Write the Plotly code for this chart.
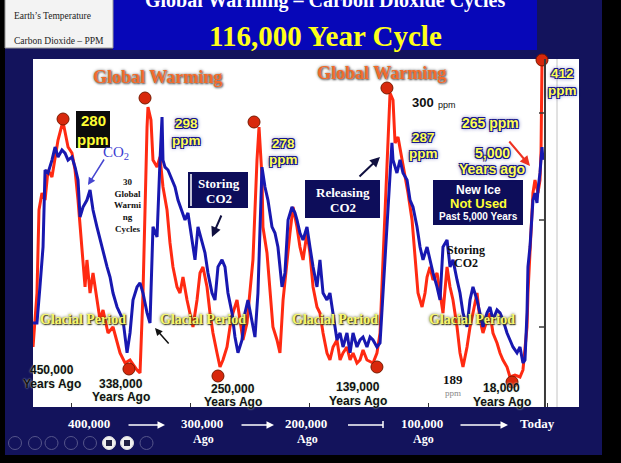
import plotly.graph_objects as go

# ---------------- data ----------------
# x: thousands of years ago ; red = temperature anomaly (deg C) ; blue = CO2 (ppm)
temp_kyr = [431.9, 428.6, 426.9, 424.4, 421.8, 419.3, 416.0, 413.4, 410.9, 407.6, 406.7, 405.0, 402.5, 399.2,
            396.6, 394.1, 392.4, 390.8, 389.9, 388.2, 386.6, 384.0, 381.5, 378.2, 375.6, 373.1, 368.9, 364.7,
            358.8, 354.6, 350.4, 344.5, 342.0, 339.5, 337.8, 336.1, 335.3, 332.8, 331.1, 327.7, 325.2, 322.7,
            319.3, 316.8, 314.3, 310.9, 308.4, 305.9, 302.5, 300.0, 297.5, 294.1, 291.6, 289.1, 285.7, 283.2,
            280.7, 277.3, 274.8, 272.3, 268.9, 266.4, 263.9, 260.5, 258.0, 255.5, 252.1, 249.6, 247.1, 243.7,
            242.0, 239.5, 238.7, 235.3, 232.8, 230.3, 226.9, 224.4, 221.8, 218.5, 216.0, 213.4, 210.1, 207.6,
            205.0, 201.7, 199.2, 196.6, 193.3, 190.8, 188.2, 184.9, 182.4, 179.8, 176.5, 173.9, 171.4, 168.1,
            165.5, 163.0, 159.7, 157.1, 154.6, 151.3, 146.2, 142.9, 140.3, 137.8, 134.5, 131.9, 129.4, 127.7,
            125.2, 121.8, 119.3, 116.8, 113.4, 110.9, 108.4, 105.0, 102.5, 100.8, 98.3, 95.8, 92.4, 89.9,
            87.4, 84.0, 81.5, 79.0, 75.6, 73.1, 70.6, 67.2, 64.7, 62.2, 58.8, 56.3, 53.8, 50.4, 47.9, 45.4,
            42.0, 39.5, 37.0, 33.6, 31.1, 26.9, 22.7, 20.2, 16.8, 16.0, 14.3, 11.8, 10.1, 8.4, 7.6, 5.9,
            5.0, 4.2]
temp_c = [-7.08, -4.92, -1.6, -0.92, -1.2, 0.0, -0.28, 0.52, 1.2, 1.8, 1.92, 1.52, 0.92, 0.68,
          0.0, -1.2, -2.28, -3.08, -3.88, -4.68, -3.6, -4.92, -4.12, -5.2, -6.0, -5.6, -6.52, -6.28,
          -7.32, -7.72, -7.6, -8.0, -8.12, -4.92, -0.92, 1.72, 2.52, 2.0, 0.4, 0.12, 0.52, -0.68,
          -1.6, -2.92, -3.88, -4.68, -4.92, -4.28, -5.2, -5.72, -6.28, -5.2, -4.12, -3.88, -4.68, -5.72,
          -6.52, -7.32, -7.88, -7.6, -7.08, -6.28, -5.72, -5.2, -6.0, -6.8, -6.12, -4.92, -3.6, 0.4,
          1.72, -0.28, -2.28, -3.32, -4.68, -6.28, -6.8, -7.32, -5.2, -3.6, -2.52, -1.48, -2.28, -3.08,
          -3.6, -2.52, -3.32, -4.68, -5.48, -5.72, -6.52, -7.32, -7.6, -7.08, -6.8, -7.6, -7.32, -7.08,
          -7.6, -7.32, -7.72, -7.6, -7.2, -7.6, -7.72, -7.32, -6.52, -3.6, 0.4, 3.08, 2.8, 1.08,
          1.32, 0.4, -0.12, -0.92, -2.0, -3.6, -4.92, -5.48, -4.92, -4.28, -3.88, -4.4, -4.12, -4.92,
          -5.72, -3.88, -4.68, -5.2, -6.28, -7.32, -7.88, -7.08, -6.28, -5.72, -4.92, -6.0, -6.52, -6.0, -5.72, -6.52,
          -6.92, -7.32, -7.6, -7.88, -8.28, -8.2, -8.28, -8.0, -6.28, -4.92, -3.32, -0.92, -0.4, -0.8, -0.92, -0.4,
          0.8, 4.4]

co2_kyr = [431.9, 428.6, 426.1, 423.5, 421.8, 419.3, 416.0, 413.4, 410.9, 407.6, 405.0, 402.5, 399.2, 396.6,
           394.1, 392.4, 389.9, 386.6, 384.0, 381.5, 378.2, 375.6, 373.1, 369.7, 367.2, 364.7, 361.3, 358.8,
           356.3, 352.9, 350.4, 347.9, 344.5, 342.0, 339.5, 336.1, 333.6, 331.1, 327.7, 325.2, 323.5, 322.7,
           321.0, 318.5, 315.1, 312.6, 310.1, 306.7, 304.2, 301.7, 298.3, 295.8, 293.3, 289.9, 287.4, 284.9,
           281.5, 279.0, 276.5, 273.1, 270.6, 268.1, 264.7, 262.2, 259.7, 256.3, 253.8, 251.3, 247.9, 245.4,
           242.9, 239.5, 237.0, 234.5, 231.1, 228.6, 226.1, 222.7, 220.2, 217.6, 214.3, 211.8, 210.1, 207.6,
           205.0, 201.7, 199.2, 196.6, 193.3, 190.8, 188.2, 184.9, 182.4, 179.8, 176.5, 173.9, 171.4, 168.1,
           165.5, 163.0, 159.7, 157.1, 154.6, 151.3, 148.7, 146.2, 142.9, 140.3, 137.8, 134.5, 131.9, 130.3,
           129.4, 126.1, 123.5, 121.0, 117.6, 115.1, 112.6, 109.2, 106.7, 104.2, 100.8, 98.3, 95.8, 92.4,
           89.9, 87.4, 84.0, 81.5, 79.0, 75.6, 73.1, 70.6, 67.2, 64.7, 62.2, 58.8, 56.3, 53.8, 50.4, 47.9,
           45.4, 42.0, 39.5, 37.0, 33.6, 31.1, 28.6, 25.2, 22.7, 20.2, 18.5, 16.8, 16.0, 14.3, 11.8, 10.1,
           8.4, 7.6, 5.9, 4.2, 3.4]
co2_ppm = [206.7, 206.7, 222.7, 240.4, 274.5, 273.2, 278.9, 284.7, 280.3, 283.4, 282.0, 278.9, 280.3, 275.8,
           270.1, 253.7, 258.1, 261.2, 265.7, 256.8, 249.3, 243.5, 237.8, 231.6, 227.1, 220.0, 213.8, 211.2,
           208.1, 193.5, 202.3, 216.9, 222.7, 224.5, 220.0, 211.2, 206.7, 249.3, 244.8, 278.9, 298.0, 278.9,
           275.8, 274.5, 270.1, 267.0, 261.2, 255.5, 252.4, 255.5, 243.5, 234.7, 249.3, 242.2, 237.8, 228.9,
           220.0, 216.9, 231.6, 234.7, 231.6, 220.0, 211.2, 200.5, 193.5, 199.2, 211.2, 216.9, 208.1, 200.5,
           220.0, 275.8, 267.0, 261.2, 249.3, 246.6, 240.4, 222.7, 228.9, 252.4, 258.1, 255.5, 252.4, 246.6,
           243.5, 249.3, 240.4, 231.6, 222.7, 234.7, 220.0, 216.9, 220.0, 211.2, 199.2, 202.3, 196.1, 202.3,
           193.5, 202.3, 196.1, 199.2, 200.5, 196.1, 200.5, 199.2, 196.1, 197.9, 220.0, 249.3, 271.4, 286.5,
           279.0, 273.2, 279.0, 273.2, 270.1, 261.2, 258.1, 249.3, 240.4, 234.7, 240.4, 234.7, 228.9, 222.7,
           216.9, 240.4, 243.5, 231.6, 234.7, 225.8, 220.0, 211.2, 205.0, 216.9, 222.7, 216.9, 211.2, 205.0,
           211.2, 213.8, 208.1, 212.5, 211.2, 208.1, 202.3, 199.2, 196.1, 193.5, 196.1, 189.0, 190.3, 211.2,
           231.6, 240.4, 261.2, 264.3, 259.9, 265.7, 273.2, 284.7, 279.0]

peak_kyr = [406.7, 337.8, 246.2, 134.5, 4.2]
peak_c = [2.04, 2.88, 1.92, 3.28, 4.4]
low_kyr = [351.3, 276.5, 142.9, 29.4]
low_c = [-7.96, -8.24, -7.88, -8.48]

tick_kyr = [400, 300, 200, 100, 0]
tick_top = ["400,000", "300,000", "200,000", "100,000", "Today"]
tick_bottom = ["", "Ago", "Ago", "Ago", ""]

assert len(temp_kyr) == len(temp_c), (len(temp_kyr), len(temp_c))
assert len(co2_kyr) == len(co2_ppm), (len(co2_kyr), len(co2_ppm))

# ---------------- layout helpers ----------------
W, H = 621, 463
L, R, T, B = 33, 579, 59, 407
SERIF = "Liberation Serif"
SANS = "Liberation Sans"
NAVY = "#13135c"
BOXNAVY = "#0d0d5a"
GLOW = ("1px 1px 0 #16168a, -1px -1px 0 #16168a, 1px -1px 0 #16168a, "
        "-1px 1px 0 #16168a, 0 0 4px #16168a")


def X(p):
    return (p - L) / (R - L)


def Y(p):
    return (B - p) / (B - T)


anns = []
shapes = []


def A(x, y, text, size, color, fam=SERIF, shadow=None, xanchor="center", yanchor="middle"):
    f = dict(family=fam, size=size, color=color)
    if shadow:
        f["shadow"] = shadow
    anns.append(dict(xref="paper", yref="paper", x=X(x), y=Y(y), text=text, showarrow=False,
                     font=f, xanchor=xanchor, yanchor=yanchor))


def AR(hx, hy, tx, ty, color, width=1.5, head=2, size=1.0):
    anns.append(dict(xref="paper", yref="paper", x=X(hx), y=Y(hy), ax=tx - hx, ay=ty - hy,
                     text="", showarrow=True, arrowhead=head, arrowwidth=width,
                     arrowcolor=color, arrowsize=size, standoff=0))


def RECT(x0, y0, x1, y1, fill, line=None, lw=0):
    shapes.append(dict(type="rect", xref="paper", yref="paper", x0=X(x0), x1=X(x1),
                       y0=Y(y1), y1=Y(y0), fillcolor=fill,
                       line=dict(color=line or fill, width=lw)))


def LINE(x0, y0, x1, y1, color, w=1):
    shapes.append(dict(type="line", xref="paper", yref="paper", x0=X(x0), x1=X(x1),
                       y0=Y(y0), y1=Y(y1), line=dict(color=color, width=w)))


# frame pieces
RECT(-10, -10, 5, 480, "black")
RECT(602, -10, 640, 480, "black")
RECT(-10, 455, 640, 480, "black")
RECT(113, -10, 537, 50, "#0707b8")
RECT(5, -10, 113, 48, "#f3f3f3", "#9a9a9a", 1)

# right-hand vertical lines with ticks
shapes.append(dict(type="line", xref="x", yref="paper", x0=1.7, x1=1.7, y0=0, y1=1,
                   line=dict(color="#3a3a3a", width=2)))
shapes.append(dict(type="line", xref="x", yref="paper", x0=-8.4, x1=-8.4, y0=0, y1=1,
                   line=dict(color="#c4c4c4", width=1)))
for ty in (113, 220, 327):
    LINE(539, ty, 545, ty, "#3a3a3a", 1.5)

# text boxes
RECT(76, 111, 110, 148, "#0c0c0c")
RECT(188, 172, 248, 208, BOXNAVY)
LINE(191, 174, 191, 206, "white", 1.5)
RECT(305, 180, 380, 218, BOXNAVY)
RECT(433, 180, 523, 225, BOXNAVY)

# toolbar icons
for i, cx in enumerate([15, 35, 51.5, 71, 90, 109, 127, 146.5]):
    filled = i in (5, 6)
    r = 6.5
    shapes.append(dict(type="circle", xref="paper", yref="paper",
                       x0=X(cx - r), x1=X(cx + r), y0=Y(443 + r), y1=Y(443 - r),
                       fillcolor="#f0f0f0" if filled else "rgba(0,0,0,0)",
                       line=dict(color="#55558a" if not filled else "#dddddd", width=1)))
    if filled:
        RECT(cx - 3, 440, cx + 3, 446, "#222244")

# titles
A(325, 1, "<b>Global Warming – Carbon Dioxide Cycles</b>", 20, "white")
A(325, 36, "<b>116,000 Year Cycle</b>", 29, "#ffff1a")
A(12, 16, "Earth’s Temperature", 9.5, "#222", xanchor="left")
A(12, 41, "Carbon Dioxide – PPM", 9.5, "#222", xanchor="left")

A(157, 77, "<b>Global Warming</b>", 18, "#f26b2b", shadow="0 0 3px #777, 1px 1px 2px #555")
A(381, 73, "<b>Global Warming</b>", 18, "#f26b2b", shadow="0 0 3px #777, 1px 1px 2px #555")

# ppm labels
A(93, 121, "<b>280</b>", 15, "#ffff33", SANS)
A(93, 139, "<b>ppm</b>", 15, "#ffff33", SANS)
for cx, y1, y2, t1, t2, s in [(186, 123, 140, "298", "ppm", 13.5), (283, 143, 159, "278", "ppm", 13.5),
                              (423, 137, 153, "287", "ppm", 13.5), (492, 153, 169, "5,000", "Years ago", 14),
                              (562, 73, 90, "412", "ppm", 13.5)]:
    A(cx, y1, "<b>%s</b>" % t1, s, "#ffff55", SANS, shadow=GLOW)
    A(cx, y2, "<b>%s</b>" % t2, s, "#ffff55", SANS, shadow=GLOW)
A(490, 123, "<b>265 ppm</b>", 14, "#ffff55", SANS, shadow=GLOW)
A(423, 103, "<b>300</b>", 13, "#111", SANS)
A(447, 105, "ppm", 9, "#111", SANS)

# boxes text
A(219, 183, "<b>Storing</b>", 13, "white")
A(219, 198, "<b>CO2</b>", 13, "white")
A(343, 192, "<b>Releasing</b>", 13, "white")
A(343, 208, "<b>CO2</b>", 13, "white")
A(478, 190, "<b>New Ice</b>", 12, "white", SANS)
A(478, 203, "<b>Not Used</b>", 13, "#ffff33", SANS)
A(478, 217, "<b>Past 5,000 Years</b>", 10, "white", SANS)

A(116, 153, "CO<sub>2</sub>", 15, "#3c3cd2")
A(127, 205, "<b>30<br>Global<br>Warmi<br>ng<br>Cycles</b>", 9, "#111")
A(466, 250, "<b>Storing</b>", 12, "#111")
A(466, 263, "<b>CO2</b>", 12, "#111")

for cx in (83, 203, 335, 472):
    A(cx, 319, "<b>Glacial Period</b>", 14, "#f7f76e", shadow="0 0 3px #4a4a00, 1px 1px 1px #333")

for cx, y1, y2, t in [(52, 370, 384, "450,000"), (121, 384, 397, "338,000"), (233, 389, 402, "250,000"),
                      (358, 387, 401, "139,000"), (502, 388, 402, "18,000")]:
    A(cx, y1, "<b>%s</b>" % t, 12, "#111", SANS, shadow="0 0 2px #cfe8cf")
    A(cx, y2, "<b>Years Ago</b>", 12, "#111", SANS, shadow="0 0 2px #cfe8cf")

A(453, 379, "<b>189</b>", 13, "#111")
A(453, 393, "ppm", 9, "#888")

# arrows in chart
AR(88, 185, 105, 158, "#4646d0", 1.5)
AR(212, 237, 222, 214, "#101040", 2)
AR(380, 157, 358, 178, "#101040", 2)
AR(155, 328, 170, 345, "#111", 1.5)
AR(530, 166, 508, 140, "#ee3322", 2)

# bottom axis labels
label_px = [89, 202, 306, 422, 537]
for px_, t1, t2 in zip(label_px, tick_top, tick_bottom):
    A(px_, 423, "<b>%s</b>" % t1, 13, "white")
    if t2:
        A(px_ + 1, 439, "<b>%s</b>" % t2, 12, "white")
AR(165, 425, 127, 425, "white", 1.5)
AR(274, 425, 240, 425, "white", 1.5)
LINE(348, 425, 383, 425, "white", 1.5)
LINE(383, 421, 383, 428, "white", 1.5)
AR(508, 425, 459, 425, "white", 1.5)

# ---------------- figure ----------------
fig = go.Figure()
fig.add_trace(go.Scatter(x=temp_kyr, y=temp_c, mode="lines", yaxis="y",
                         line=dict(color="#ff2a12", width=3), cliponaxis=False,
                         name="Earth's Temperature"))
fig.add_trace(go.Scatter(x=co2_kyr, y=co2_ppm, mode="lines", yaxis="y2",
                         line=dict(color="#1818b0", width=3), name="Carbon Dioxide – PPM"))
fig.add_trace(go.Scatter(x=peak_kyr + low_kyr, y=peak_c + low_c, mode="markers", yaxis="y3",
                         marker=dict(size=12, color="#d8280c", line=dict(color="#7a1a00", width=1)),
                         cliponaxis=False))

x_left = (547 - L) / 1.19
x_right = (547 - R) / 1.19
fig.update_layout(
    width=W, height=H,
    margin=dict(l=L, r=W - R, t=T, b=H - B),
    paper_bgcolor=NAVY, plot_bgcolor="white",
    showlegend=False,
    xaxis=dict(range=[x_left, x_right], showgrid=False, zeroline=False, showline=False,
               tickvals=tick_kyr, ticks="inside", ticklen=4, tickcolor="#333",
               showticklabels=False),
    yaxis=dict(range=[-9.48, 4.44], visible=False),
    yaxis2=dict(range=[169.5, 323.7], overlaying="y", visible=False),
    yaxis3=dict(range=[-9.48, 4.44], overlaying="y", visible=False),
    shapes=shapes,
    annotations=anns,
)

fig.write_html("out.html", config={"displayModeBar": False},
               post_script="document.body.style.margin='0';document.body.style.overflow='hidden';")
